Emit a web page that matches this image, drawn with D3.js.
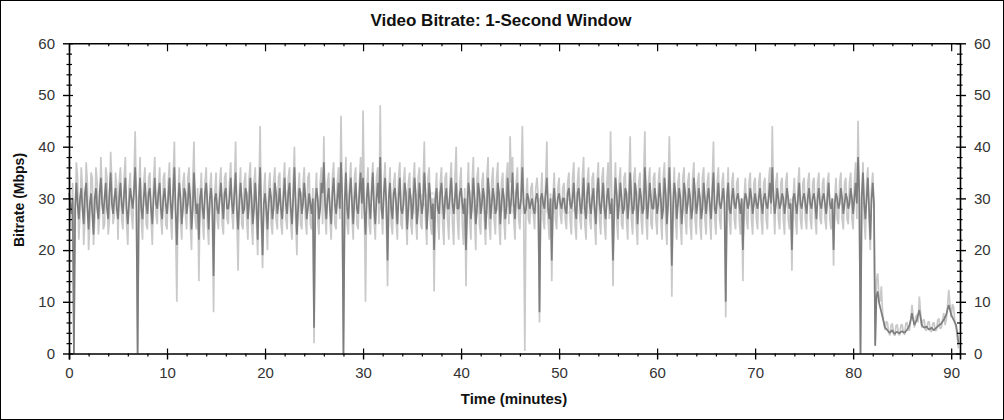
<!DOCTYPE html>
<html><head><meta charset="utf-8">
<script src="https://cdn.jsdelivr.net/npm/d3@7"></script>
<style>
body{margin:0;background:#fff}
svg{display:block}
text{font-family:"Liberation Sans",Arial,sans-serif}
</style>
</head><body>
<svg id="c" width="1004" height="420"></svg>
<script>
// ---- data ----
const sampleStep = 0.125; // minutes between samples
const titleText = "Video Bitrate: 1-Second Window";
const xLabelText = "Time (minutes)";
const yLabelText = "Bitrate (Mbps)";
const xTickValues = [0,10,20,30,40,50,60,70,80,90];
const yTickValues = [0,10,20,30,40,50,60];

// dark series (Mbps), one sample every 0.125 min, one row = 5 minutes
const darkSeries = [
31,29,27,30,0,28,33,29,26,30,32,28,25,31,33,28,24,29,31,27,23,30,32,28,26,31,34,29,27,30,33,28,26,31,35,29,27,30,32,28,
26,30,33,29,27,31,34,28,25,29,32,30,28,31,36,30,0,29,34,28,26,30,33,29,27,31,32,28,25,30,34,29,28,31,33,28,26,30,32,29,
27,30,34,29,26,31,36,28,21,29,33,30,25,28,32,31,27,29,33,30,24,28,35,30,27,29,22,30,32,28,26,31,33,29,24,30,32,28,15,30,
31,28,27,30,33,29,26,31,32,28,28,30,34,29,27,31,35,28,24,29,33,30,27,28,32,31,26,29,34,30,25,28,33,29,22,30,36,27,19,29,
31,28,24,29,32,30,26,28,33,31,27,29,32,28,26,30,34,29,27,31,33,28,25,30,36,29,23,28,32,31,27,29,33,30,26,28,31,29,27,30,
5,29,32,30,26,28,33,31,37,29,26,30,32,28,25,31,34,29,27,30,33,28,37,30,0,29,35,28,26,31,34,29,25,30,33,28,27,31,35,29,
34,28,23,30,33,29,26,31,35,28,25,30,33,29,38,28,26,31,34,29,18,30,33,28,26,31,32,29,25,30,34,28,27,29,33,31,24,28,32,30,
26,29,34,31,25,28,33,30,27,29,35,31,24,28,33,30,26,29,20,30,32,28,27,31,33,29,26,30,32,28,28,31,34,29,27,30,33,28,28,31,
32,29,27,30,20,28,33,31,26,29,34,30,25,28,33,31,27,29,32,30,24,28,34,31,26,29,32,30,27,28,33,31,25,29,32,30,26,28,34,30,
27,30,35,29,26,31,33,28,28,30,36,29,27,28,31,30,28,29,30,28,27,30,31,29,8,30,31,29,28,31,34,28,26,30,18,29,32,28,28,30,
31,29,28,30,30,28,27,31,32,29,28,30,33,28,26,31,32,29,27,30,34,28,26,31,33,29,27,30,32,28,25,31,34,29,27,30,33,28,26,30,
32,29,27,30,18,28,34,31,26,29,33,30,27,28,32,31,26,29,35,30,27,28,33,31,25,29,32,30,27,28,36,31,26,29,33,30,28,28,32,30,
27,29,33,30,26,28,34,31,25,29,36,30,17,28,33,31,26,29,32,30,25,28,33,31,27,29,32,30,26,28,34,31,27,29,32,30,26,28,33,30,
27,30,32,29,26,31,35,28,27,30,33,29,28,30,32,29,10,30,33,28,27,30,32,29,28,30,31,29,27,30,20,29,31,30,28,29,32,30,27,29,
31,29,28,30,32,29,27,30,31,29,28,30,33,29,36,30,27,29,32,30,28,29,31,30,27,29,32,30,28,29,20,30,31,29,27,30,33,29,28,30,
31,29,27,30,32,29,28,30,31,29,26,30,32,29,28,30,31,29,27,30,33,29,28,30,20,29,31,30,28,29,32,30,27,29,31,30,28,29,32,30,
27,30,33,29,38,31,0,30,35,29,26,30,34,28,22,30,33,29,1.5,11,12,10,9,8,7,6,5,4.8,4.5,4.2,4,4.3,4.5,4,3.8,4.1,4.2,4,3.9,4.2,
4.3,4.1,4,4.3,4.6,5,5.5,6.5,7.8,6.5,5.5,6,6.5,7.5,8.4,7,5.5,5.2,5,5.1,5.2,4.9,4.6,4.8,5,4.7,4.5,4.8,5,5.2,5.5,5.6,5.8,6.2,6.5,7,7.5,8.5,9.4,8.5,
7.5,7,6.5,6,5.5,4,2
];

// light series (Mbps), one sample every 0.125 min, one row = 5 minutes
const lightSeries = [
38,26,24,33,0,25,37,34,22,27,36,32,21,26,37,33,20,25,35,34,21,26,36,33,23,27,38,32,24,25,36,34,23,26,39,33,25,27,35,32,
22,33,36,26,24,34,38,25,21,32,35,27,24,33,43,28,0,30,38,26,22,33,36,25,24,34,35,26,21,33,38,27,25,32,36,26,23,34,35,25,
24,33,37,26,22,34,41,25,10,30,36,26,22,33,35,27,24,34,36,25,20,33,41,26,24,32,14,30,35,26,22,33,36,25,21,32,35,27,8,31,
35,26,24,33,36,25,23,34,35,26,25,33,37,27,24,32,41,26,16,31,36,25,24,33,35,26,22,34,37,25,21,33,36,26,19,32,44,25,16.5,31,
35,26,20,32,35,25,23,33,36,26,24,34,35,25,23,33,37,26,24,34,36,25,22,33,40,26,19,31,35,25,24,33,36,26,23,34,35,25,24,32,
2,30,35,26,23,33,36,25,42,27,23,33,35,26,22,34,37,25,24,33,36,26,46,30,0,30,38,25,23,33,37,26,22,34,36,25,24,33,38,26,
47,30,10,31,36,25,23,33,37,26,22,34,36,25,48,28,23,33,37,26,13,31,36,25,23,33,35,26,22,34,37,25,24,33,36,26,21,33,35,25,
23,33,37,26,22,34,36,25,24,33,41,26,21,34,36,25,23,30,12,30,35,26,22,33,36,25,21,34,35,26,22,33,37,25,21,34,40,26,22,33,
36,25,21,32,13,30,37,26,22,33,38,26,20,34,36,25,23,33,35,26,21,34,38,25,22,33,36,26,23,34,37,25,21,33,35,26,22,34,37,25,
42,33,38,26,22,33,36,26,24,33,44,30,0.5,30,34,26,25,32,33,27,24,32,34,30,6,30,35,26,24,33,41,26,22,31,14,30,35,26,24,32,
34,27,25,32,33,26,24,33,35,26,23,34,37,25,22,33,36,26,24,34,38,25,22,33,36,26,24,34,35,25,21,33,37,26,23,34,36,25,22,33,
37,26,43,30,13,30,37,26,22,33,36,25,24,34,35,26,22,33,42,26,23,34,36,25,21,33,35,26,23,34,43,26,22,33,36,25,24,34,35,26,
23,33,36,26,22,34,37,25,21,33,42,30,11,30,36,26,22,33,35,25,21,34,36,26,23,33,35,25,22,34,37,26,23,33,35,25,22,34,36,26,
23,33,35,26,22,33,41,26,23,33,36,26,24,33,35,28,7,30,36,26,23,33,35,26,24,33,34,26,23,30,14,30,34,26,24,33,35,26,23,33,
34,26,24,33,35,26,23,33,34,26,24,33,36,27,44,30,23,33,35,26,24,33,34,26,23,33,35,26,24,30,16,30,34,26,23,33,36,26,24,33,
34,26,24,33,35,26,24,33,34,26,23,33,35,26,25,33,34,26,24,33,35,26,24,30,17,30,34,26,25,33,35,26,24,33,34,26,25,33,35,26,
24,33,37,26,45,30,0,30,37,26,22,33,36,26,20,32,35,27,1.5,14,15.5,11,10,13,8,6,4.5,6.2,6,4,3.5,5.5,5.8,3.8,3.4,5.4,5.6,3.7,3.6,5.5,
5.6,4,3.6,5.8,6,4.5,4.5,6.5,9.4,7,5,7,7.5,6,11,8,5,6.5,6.5,4.5,4.5,6,6.2,4.4,4.2,5.8,6,4.4,4.5,6.4,6.8,4.8,5,6.6,7.8,5.5,6.5,9,12.3,9.5,
7,9.5,9,6,5,3,1
];

// ---- drawing ----
const svg = d3.select("#c");
const W = 1004, H = 420;
const x = d3.scaleLinear().domain([0, 90.9]).range([69, 960]);
const y = d3.scaleLinear().domain([0, 60]).range([353.5, 43.3]);

svg.append("rect").attr("x",0.5).attr("y",0.5).attr("width",W-1).attr("height",H-1)
  .attr("fill","#fff").attr("stroke","#000").attr("stroke-width",1);

// faint watermark
svg.append("text").attr("x",x(44)).attr("y",y(27)).attr("text-anchor","middle")
  .attr("font-size",30).attr("font-weight","bold").attr("fill","#e8e8e8").text("Filmarena.cz");

const line = d3.line().x((d,i)=>x(i*sampleStep)).y(d=>y(d));
svg.append("path").datum(lightSeries).attr("d",line)
  .attr("fill","none").attr("stroke","#c9c9c9").attr("stroke-width",1.7).attr("stroke-linejoin","bevel");
svg.append("path").datum(darkSeries).attr("d",line)
  .attr("fill","none").attr("stroke","#7d7d7d").attr("stroke-width",1.7).attr("stroke-linejoin","bevel");

// axes
const minorX = d3.range(0, 91, 2).filter(v=>v%10!==0);
const minorY = d3.range(0, 61, 2).filter(v=>v%10!==0);
function styleAxis(g){
  g.select(".domain").attr("stroke","#000").attr("stroke-width",1.6);
  g.selectAll(".tick line").attr("stroke","#000").attr("stroke-width",1.4);
  g.selectAll(".tick text").attr("fill","#333").attr("font-size",15)
   .attr("font-family","'Liberation Sans',Arial,sans-serif");
}
function noDomain(g){ g.select(".domain").remove(); g.selectAll(".tick line").attr("stroke","#000").attr("stroke-width",1.2); }

// bottom
svg.append("g").attr("transform",`translate(0,${y(0)})`)
  .call(d3.axisBottom(x).tickValues(xTickValues).tickSize(6).tickPadding(8).tickFormat(d3.format("d")))
  .call(styleAxis);
svg.append("g").attr("transform",`translate(0,${y(0)})`)
  .call(d3.axisTop(x).tickValues(xTickValues).tickSize(5).tickFormat("")).call(noDomain);
svg.append("g").attr("transform",`translate(0,${y(0)})`)
  .call(d3.axisBottom(x).tickValues(minorX).tickSize(3).tickFormat("")).call(noDomain);
// top
svg.append("g").attr("transform",`translate(0,${y(60)})`)
  .call(d3.axisTop(x).tickValues([]).tickSizeOuter(0)).call(styleAxis);
svg.append("g").attr("transform",`translate(0,${y(60)})`)
  .call(d3.axisBottom(x).tickValues(xTickValues).tickSize(8).tickFormat("")).call(noDomain);
svg.append("g").attr("transform",`translate(0,${y(60)})`)
  .call(d3.axisBottom(x).tickValues(minorX).tickSize(3).tickFormat("")).call(noDomain);
// left
svg.append("g").attr("transform",`translate(${x(0)},0)`)
  .call(d3.axisLeft(y).tickValues(yTickValues).tickSize(6).tickPadding(8).tickSizeOuter(0))
  .call(styleAxis);
svg.append("g").attr("transform",`translate(${x(0)},0)`)
  .call(d3.axisRight(y).tickValues(yTickValues).tickSize(4).tickFormat("")).call(noDomain);
svg.append("g").attr("transform",`translate(${x(0)},0)`)
  .call(d3.axisLeft(y).tickValues(minorY).tickSize(2.5).tickFormat("")).call(noDomain);
svg.append("g").attr("transform",`translate(${x(0)},0)`)
  .call(d3.axisRight(y).tickValues(minorY).tickSize(3).tickFormat("")).call(noDomain);
// right
svg.append("g").attr("transform",`translate(${x.range()[1]},0)`)
  .call(d3.axisRight(y).tickValues(yTickValues).tickSize(6).tickPadding(8).tickSizeOuter(0))
  .call(styleAxis);
svg.append("g").attr("transform",`translate(${x.range()[1]},0)`)
  .call(d3.axisLeft(y).tickValues(yTickValues).tickSize(4).tickFormat("")).call(noDomain);
svg.append("g").attr("transform",`translate(${x.range()[1]},0)`)
  .call(d3.axisLeft(y).tickValues(minorY).tickSize(3).tickFormat("")).call(noDomain);
svg.append("g").attr("transform",`translate(${x.range()[1]},0)`)
  .call(d3.axisRight(y).tickValues(minorY).tickSize(2.5).tickFormat("")).call(noDomain);

// titles
svg.append("text").attr("x",501).attr("y",26).attr("text-anchor","middle")
  .attr("font-size",17).attr("font-weight","bold").attr("fill","#111").text(titleText);
svg.append("text").attr("x",514).attr("y",404).attr("text-anchor","middle")
  .attr("font-size",15).attr("font-weight","bold").attr("fill","#111").text(xLabelText);
svg.append("text").attr("transform","translate(24,200) rotate(-90)").attr("text-anchor","middle")
  .attr("font-size",14).attr("font-weight","bold").attr("fill","#111").text(yLabelText);
</script>
</body></html>
